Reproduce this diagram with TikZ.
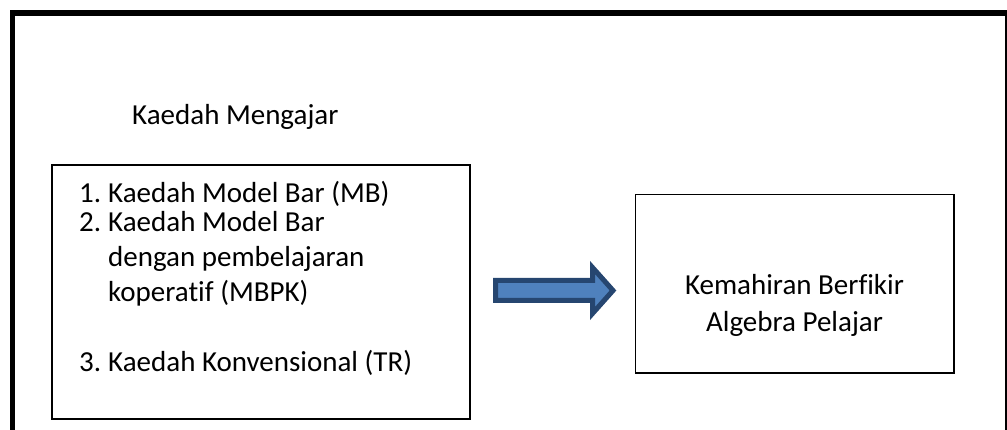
\documentclass[tikz,border=0pt]{standalone}
\usepackage{fontspec}
\setmainfont[Ligatures={NoCommon}]{Carlito}
\definecolor{arrowfill}{HTML}{4F81BD}
\definecolor{arrowline}{HTML}{264670}
\begin{document}
\begin{tikzpicture}[x=1pt,y=-1pt,
  txt/.style={anchor=base west,inner sep=0pt,font=\fontsize{29}{35}\selectfont},
  ctxt/.style={anchor=base,inner sep=0pt,font=\fontsize{29}{35}\selectfont},
  boxed/.style={draw=black,line width=1.3pt}]
\useasboundingbox (0,0) rectangle (1007,430);
% outer frame
\draw[line width=5.5pt] (12.5,13) rectangle (1008,445);
% boxes
\draw[boxed] (52,165) rectangle (470,419);
\coordinate (rb1) at (635.5,194.5);
\coordinate (rb2) at (954,373);
\draw[boxed] (rb1) rectangle (rb2);
% title
\node[txt] (title) at (132,125) {Kaedah Mengajar};
% list
\node[txt] (l1) at (79,203) {\makebox[29pt][l]{1.}Kaedah Model Bar (MB)};
\node[txt] (l2) at (79,232) {\makebox[29pt][l]{2.}Kaedah Model Bar};
\node[txt] (l2b) at (108,267) {dengan pembelajaran};
\node[txt] (l2c) at (108,302) {koperatif (MBPK)};
\node[txt] (l3) at (79,372) {\makebox[29pt][l]{3.}Kaedah Konvensional (TR)};
% right text
\node[ctxt] (r1) at (794.5,295) {Kemahiran Berfikir};
\node[ctxt] (r2) at (794.5,332) {Algebra Pelajar};
% block arrow
\draw[fill=arrowfill,draw=arrowline,line width=5pt,line join=miter]
  (495.5,280.5) -- (592.5,280.5) -- (592.5,267.5) -- (613,290.5)
  -- (592.5,313.5) -- (592.5,300.5) -- (495.5,300.5) -- cycle;
\end{tikzpicture}
\end{document}
